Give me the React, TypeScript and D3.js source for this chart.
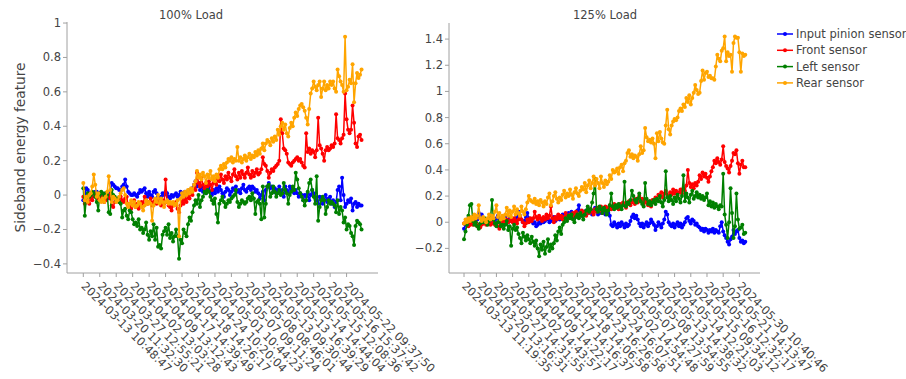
import React from "react";
import * as d3 from "d3";

// ---------- DATA ----------
const seriesNames = ["Input pinion sensor", "Front sensor", "Left sensor", "Rear sensor"];
const seriesColors = ["#0000ff", "#ff0000", "#008000", "#ffa500"];

const leftTitle = "100% Load";
const rightTitle = "125% Load";
const yAxisTitle = "Sideband energy feature";

const leftYTicks = [-0.4, -0.2, 0, 0.2, 0.4, 0.6, 0.8, 1];
const rightYTicks = [-0.2, 0, 0.2, 0.4, 0.6, 0.8, 1, 1.2, 1.4];
const TICK_STEP = 11;

const leftTickLabels = [
  "2024-03-13 10:48:47", "2024-03-20 11:32:30", "2024-03-27 12:55:21", "2024-04-02 13:03:28",
  "2024-04-09 13:12:43", "2024-04-17 14:39:49", "2024-04-18 14:26:17", "2024-04-24 10:20:04",
  "2024-05-01 10:44:23", "2024-05-07 09:11:24", "2024-05-08 08:46:01", "2024-05-13 09:30:44",
  "2024-05-13 16:39:29", "2024-05-14 14:44:04", "2024-05-15 12:08:36", "2024-05-16 15:37:42",
  "2024-05-22 09:37:50",
];
const rightTickLabels = [
  "2024-03-13 11:19:35", "2024-03-20 13:16:31", "2024-03-27 14:31:55", "2024-04-02 14:43:57",
  "2024-04-09 14:22:17", "2024-04-17 14:16:37", "2024-04-18 14:06:58", "2024-04-23 16:26:58",
  "2024-04-24 16:07:51", "2024-05-02 14:54:48", "2024-05-07 14:27:59", "2024-05-08 13:54:55",
  "2024-05-13 14:38:32", "2024-05-14 12:21:03", "2024-05-15 09:34:12", "2024-05-16 12:32:17",
  "2024-05-21 14:13:47", "2024-05-30 10:40:46",
];

// 100% load
const leftInput = [
  -0.03, 0.0, 0.04, 0.03, 0.01, 0.0, -0.01, 0.01, 0.02, 0.02,
  0.01, 0.01, 0.01, 0.0, -0.01, 0.01, -0.02, 0.0, 0.02, 0.07,
  0.06, 0.05, 0.04, 0.04, 0.03, 0.03, 0.05, 0.06, 0.09, 0.05,
  0.02, 0.01, 0.0, 0.0, 0.01, 0.0, -0.01, 0.01, 0.03, 0.02,
  0.03, 0.04, 0.01, -0.01, 0.02, 0.0, -0.01, 0.02, 0.03, 0.01,
  -0.01, -0.03, -0.01, 0.01, 0.0, 0.02, 0.01, -0.01, -0.02, 0.0,
  -0.01, 0.0,
  0.01, -0.01, 0.0, 0.02, 0.01, -0.01, 0.02, 0.0,
  0.01, 0.03, 0.02, 0.04, 0.06, 0.08, 0.05, 0.07, 0.03, 0.05,
  0.02, 0.04, 0.01, 0.03, 0.05, 0.02, 0.0, 0.03, 0.01, 0.04,
  0.02, 0.05, 0.03, 0.01, -0.01, 0.02, 0.04, 0.03, 0.0, 0.02,
  0.04, 0.03, 0.05, 0.02, 0.03, 0.01, 0.04, 0.06, 0.03, 0.02,
  0.04, 0.05, 0.03, 0.05, 0.04, 0.02, 0.03, 0.01, -0.02, 0.0, 0.02,
  -0.03, 0.03, 0.05, 0.07, 0.04, 0.05, 0.02, 0.04, 0.01, 0.03,
  0.05, 0.02, 0.03, -0.01, 0.05, 0.03, 0.01, 0.05, 0.03, 0.04,
  0.01, 0.03, 0.01, -0.01, 0.01, 0.0, -0.03, 0.0, -0.01, 0.01,
  -0.03, 0.0, 0.03, 0.01, -0.01, -0.03, -0.05, -0.01, -0.02, -0.05,
  -0.03, 0.0, -0.04, -0.02, -0.01, -0.05, -0.03, -0.07, -0.04, 0.03,
  0.05, -0.03, 0.1, 0.0, -0.07, -0.05, -0.03, -0.04, -0.02, -0.09,
  -0.05, -0.04, -0.07, -0.05, -0.06, -0.06,
];
const leftFront = [
  -0.01, -0.05, -0.04, -0.02, -0.05, -0.01, -0.03, 0.01, -0.01, 0.0,
  -0.02, -0.01, -0.03, -0.01, -0.04, -0.03, -0.01, 0.0, -0.02, -0.06,
  -0.07, -0.04, -0.03, -0.02, -0.04, -0.01, -0.03, -0.04, -0.02, -0.01,
  -0.06, -0.05, -0.08, -0.06, -0.03, -0.07, -0.05, -0.08, -0.06, -0.04,
  -0.05, -0.01, -0.03, -0.05, -0.04, -0.02, -0.06, -0.04, -0.03, -0.05,
  -0.02, -0.04, -0.06, -0.03, -0.05, 0.09, -0.04, -0.06, -0.07, -0.09,
  -0.06, -0.05,
  -0.04, -0.08, -0.1, -0.06, -0.03, -0.05, -0.02, -0.04,
  0.0, -0.02, 0.02, 0.0, 0.04, 0.03, 0.13, 0.07, 0.05, 0.1,
  0.06, 0.04, 0.07, 0.05, 0.08, 0.06, 0.03, 0.07, 0.09, 0.06,
  0.1, 0.08, 0.12, 0.09, 0.07, 0.11, 0.09, 0.13, 0.1, 0.08,
  0.12, 0.15, 0.11, 0.09, 0.13, 0.1, 0.14, 0.12, 0.1, 0.13,
  0.16, 0.12, 0.1, 0.14, 0.11, 0.13, 0.15, 0.12, 0.13, 0.15, 0.22,
  0.18, 0.17, 0.14, 0.1, 0.13, 0.15, 0.14, 0.16, 0.17, 0.18,
  0.2, 0.44, 0.36, 0.27, 0.26, 0.24, 0.19, 0.18, 0.17, 0.19,
  0.2, 0.21, 0.22, 0.2, 0.21, 0.19, 0.17, 0.16, 0.36, 0.25,
  0.27, 0.24, 0.26, 0.25, 0.22, 0.26, 0.45, 0.29, 0.27, 0.24,
  0.2, 0.26, 0.28, 0.26, 0.27, 0.29, 0.28, 0.3, 0.47, 0.33,
  0.32, 0.3, 0.33, 0.35, 0.59, 0.44, 0.38, 0.36, 0.38, 0.52,
  0.42, 0.3, 0.28, 0.34, 0.35, 0.32,
];
const leftLeft = [
  0.04, -0.12, -0.02, 0.01, -0.01, 0.0, 0.02, 0.01, -0.01, -0.04,
  -0.09, 0.0, 0.02, 0.01, -0.01, 0.01, 0.0, -0.1, -0.11, 0.03,
  0.0, -0.01, -0.03, -0.02, -0.04, -0.05, -0.13, -0.09, -0.08, -0.12,
  -0.14, -0.09, -0.1, -0.14, -0.17, -0.16, -0.18, -0.14, -0.2, -0.19,
  -0.22, -0.2, -0.16, -0.23, -0.26, -0.21, -0.24, -0.17, -0.26, -0.19,
  -0.3, -0.29, -0.31, -0.23, -0.21, -0.19, -0.23, -0.17, -0.25, -0.22,
  -0.27, -0.24,
  -0.2, -0.24, -0.37, -0.26, -0.28, -0.2, -0.22, -0.24,
  -0.17, -0.13, -0.15, -0.1, -0.06, -0.03, -0.05, 0.0, -0.07, -0.03,
  -0.01, 0.02, 0.01, 0.03, 0.02, -0.01, -0.03, -0.05, -0.02, -0.11,
  -0.16, -0.05, -0.03, -0.01, -0.04, -0.07, -0.05, -0.03, -0.04, -0.02,
  -0.01, 0.0, 0.03, -0.04, -0.07, -0.05, -0.03, -0.04, -0.05, -0.04,
  -0.02, -0.01, -0.03, 0.01, -0.02, -0.11, -0.04, -0.03, -0.05, -0.14, 0.05,
  -0.13, -0.05, 0.05, 0.06, -0.01, 0.01, 0.05, 0.02, -0.01, 0.01,
  0.03, 0.0, 0.01, 0.07, 0.03, 0.01, -0.05, 0.0, 0.02, 0.05,
  0.03, 0.13, 0.09, 0.04, 0.01, -0.01, -0.03, -0.06, -0.03, 0.02,
  0.07, 0.09, 0.03, -0.01, -0.05, 0.11, -0.15, -0.07, -0.03, -0.01,
  -0.03, -0.11, -0.07, -0.03, -0.05, -0.04, -0.05, -0.06, -0.1, -0.03,
  -0.11, -0.07, -0.09, -0.16, -0.13, -0.2, -0.17, -0.18, -0.22, -0.24,
  -0.29, -0.18, -0.15, -0.16, -0.17, -0.2,
];
const leftRear = [
  0.07, -0.03, -0.01, -0.04, 0.0, 0.01, 0.05, 0.12, 0.06, -0.01,
  0.01, -0.03, -0.04, -0.02, -0.04, -0.01, 0.02, 0.11, 0.03, -0.04,
  -0.01, -0.02, -0.04, -0.03, -0.01, 0.01, 0.03, 0.04, 0.0, -0.05,
  -0.07, -0.05, -0.03, -0.06, -0.04, -0.07, -0.06, -0.04, -0.05, -0.07,
  -0.09, -0.06, -0.03, -0.05, -0.04, -0.05, -0.15, -0.06, -0.02, -0.04,
  0.0, -0.05, -0.02, -0.04, -0.07, -0.04, -0.03, -0.05, -0.04, -0.05,
  -0.04, -0.06,
  -0.05, -0.03, -0.24, -0.02, 0.01, -0.01, 0.02, 0.0,
  0.03, 0.01, 0.04, 0.02, 0.06, 0.08, 0.14, 0.1, 0.12, 0.09,
  0.13, 0.11, 0.07, 0.12, 0.1, 0.14, 0.09, 0.11, 0.08, 0.12,
  0.1, 0.15, 0.17, 0.15, 0.18, 0.16, 0.19, 0.21, 0.2, 0.22,
  0.19, 0.21, 0.2, 0.28, 0.2, 0.22, 0.19, 0.21, 0.23, 0.2,
  0.22, 0.24, 0.21, 0.23, 0.22, 0.25, 0.23, 0.26, 0.24, 0.27, 0.3,
  0.26, 0.3, 0.32, 0.31, 0.29, 0.33, 0.31, 0.34, 0.32, 0.38,
  0.35, 0.4, 0.42, 0.38, 0.41, 0.36, 0.34, 0.39, 0.42, 0.4,
  0.45, 0.48, 0.46, 0.5, 0.52, 0.53, 0.51, 0.49, 0.45, 0.41,
  0.5, 0.59, 0.62, 0.66, 0.63, 0.61, 0.64, 0.66, 0.57, 0.62,
  0.66, 0.61, 0.64, 0.62, 0.66, 0.64, 0.66, 0.62, 0.6, 0.73,
  0.69, 0.66, 0.64, 0.6, 0.92, 0.61, 0.63, 0.67, 0.65, 0.76,
  0.54, 0.65, 0.71, 0.68, 0.7, 0.73,
];

// 125% load
const rightInput = [
  -0.05, -0.02, 0.0, 0.03, 0.01, 0.02, 0.0, 0.01, 0.03, 0.02,
  0.07, 0.04, 0.06, 0.03, 0.01, 0.0, 0.02, -0.01, 0.01, 0.0,
  0.02, 0.01, 0.03, 0.05, 0.03, 0.0, 0.01, 0.02, 0.04, 0.01,
  0.0, 0.03, 0.01, 0.02, 0.0, 0.03, 0.04, 0.08, 0.05, 0.02,
  0.0, 0.01, 0.04, 0.07, 0.03, 0.01, 0.02, -0.01, 0.0, -0.03,
  -0.02, 0.0, -0.01, 0.02, 0.0, 0.01, 0.03, 0.02, 0.0, 0.01,
  0.02, 0.04, 0.01, 0.03, 0.05, 0.02, 0.04, 0.06, 0.03, 0.05,
  0.04, 0.07, 0.05, 0.08, 0.06, 0.04, 0.07, 0.09, 0.13, 0.07,
  0.05, 0.08, 0.06, 0.09, 0.07, 0.1, 0.08, 0.06, 0.09, 0.11,
  0.08, 0.06, 0.09, 0.07, 0.1, 0.08, 0.06, 0.09, 0.07, 0.05,
  -0.02, -0.03, 0.0, -0.02, -0.04, -0.01, -0.03, 0.0, -0.02, -0.04,
  -0.01, -0.03, -0.02, 0.01, 0.04, 0.06, 0.03, 0.05, 0.02, -0.01,
  -0.03, -0.01, -0.04, -0.02, 0.0, -0.03, -0.01, 0.02, 0.0, -0.02,
  -0.06, -0.03, 0.0, -0.02, -0.04, -0.01, 0.02, 0.08, 0.06, 0.0,
  -0.02, -0.03, -0.01, -0.04, -0.02, 0.0, -0.03, -0.01, -0.04, -0.02,
  0.0, 0.03, 0.04, 0.01, -0.01, 0.02, 0.01, -0.02, -0.01, -0.03,
  -0.04, -0.06, -0.05, -0.07, -0.05, -0.06, -0.08, -0.06, -0.07, -0.05,
  -0.08, -0.06, -0.07, -0.08, -0.03, 0.0, -0.07, -0.1, -0.12, -0.15,
  -0.17, -0.13, -0.11, -0.06, -0.09, -0.07, -0.06, -0.12, -0.15, -0.14, -0.16, -0.15,
];
const rightFront = [
  -0.01, 0.0, -0.01, -0.03, -0.02, 0.0, -0.02, -0.01, 0.0, -0.03,
  -0.02, -0.04, -0.02, -0.01, 0.0, -0.02, 0.01, 0.0, -0.02, -0.01,
  0.0, -0.02, -0.01, -0.03, -0.05, -0.02, 0.0, 0.01, -0.01, 0.02,
  0.0, 0.01, 0.02, 0.0, 0.03, 0.01, -0.01, 0.02, 0.04, 0.02,
  0.0, -0.03, -0.01, 0.02, 0.0, 0.03, 0.01, 0.03, 0.08, 0.04,
  0.02, 0.05, 0.03, 0.01, 0.04, 0.02, 0.06, 0.03, 0.05, 0.12,
  0.03, 0.0, 0.04, 0.02, 0.06, 0.03, 0.05, 0.02, 0.04, 0.07,
  0.05, 0.03, 0.06, 0.04, 0.07, 0.05, 0.08, 0.06, 0.04, 0.07,
  0.09, 0.06, 0.08, 0.05, 0.09, 0.07, 0.1, 0.08, 0.06, 0.1,
  0.08, 0.11, 0.09, 0.12, 0.07, 0.1, 0.12, 0.09, 0.11, 0.13,
  0.1, 0.12, 0.14, 0.11, 0.13, 0.1, 0.14, 0.12, 0.15, 0.13,
  0.11, 0.14, 0.16, 0.13, 0.15, 0.17, 0.14, 0.18, 0.15, 0.2,
  0.16, 0.18, 0.14, 0.17, 0.15, 0.13, 0.16, 0.12, 0.17, 0.15,
  0.19, 0.17, 0.21, 0.2, 0.23, 0.19, 0.22, 0.24, 0.21, 0.2,
  0.23, 0.21, 0.25, 0.22, 0.24, 0.2, 0.23, 0.25, 0.22, 0.26,
  0.24, 0.28, 0.4, 0.3, 0.27, 0.29, 0.26, 0.3, 0.28, 0.31,
  0.36, 0.33, 0.38, 0.35, 0.37, 0.34, 0.31, 0.35, 0.39, 0.42,
  0.47, 0.45, 0.49, 0.46, 0.44, 0.48, 0.58, 0.46, 0.43, 0.41,
  0.38, 0.43, 0.47, 0.53, 0.52, 0.55, 0.45, 0.37, 0.44, 0.47, 0.42, 0.42,
];
const rightLeft = [
  -0.13, -0.07, -0.02, 0.05, 0.13, 0.14, 0.01, -0.02, 0.0, -0.03,
  -0.05, -0.01, 0.02, 0.0, 0.03, 0.0, -0.02, 0.01, 0.03, 0.17,
  0.02, -0.01, -0.03, 0.0, 0.01, -0.03, -0.02, -0.05, -0.02, 0.01,
  -0.06, -0.03, -0.18, -0.05, -0.02, -0.06, -0.04, -0.09, -0.12, -0.16,
  -0.08, -0.11, -0.14, -0.1, -0.13, -0.16, -0.11, -0.15, -0.18, -0.14,
  -0.2, -0.26, -0.17, -0.21, -0.15, -0.24, -0.19, -0.13, -0.22, -0.17,
  -0.2, -0.16, -0.1, -0.14, -0.07, -0.04, -0.09, -0.02, 0.0, 0.03,
  0.01, 0.05, 0.03, 0.06, 0.02, 0.0, 0.04, 0.06, 0.03, 0.07,
  0.05, 0.02, 0.06, 0.09, 0.12, 0.08, 0.1, 0.15, 0.22, 0.33,
  0.1, 0.08, 0.12, 0.1, 0.07, 0.11, 0.09, 0.06, 0.09, 0.13,
  0.22, 0.12, 0.1, 0.13, 0.11, 0.14, 0.12, 0.1, 0.13, 0.31,
  0.12, 0.15, 0.14, 0.17, 0.24, 0.2, 0.17, 0.15, 0.18, 0.22,
  0.16, 0.14, 0.12, 0.3, 0.18, 0.14, 0.16, 0.13, 0.15, 0.17,
  0.14, 0.18, 0.16, 0.2, 0.15, 0.12, 0.17, 0.39, 0.19, 0.16,
  0.2, 0.17, 0.14, 0.19, 0.16, 0.21, 0.18, 0.15, 0.2, 0.36,
  0.16, 0.22, 0.19, 0.15, 0.21, 0.24, 0.18, 0.2, 0.23, 0.19,
  0.21, 0.18, 0.2, 0.17, 0.19, 0.22, 0.13, 0.16, 0.12, 0.15,
  0.11, 0.14, 0.12, 0.1, 0.13, 0.12, 0.37, 0.06, -0.02, -0.12,
  0.0, 0.26, 0.07, -0.12, -0.03, 0.22, 0.02, -0.05, -0.04, -0.02, -0.09, -0.08,
];
const rightRear = [
  -0.01, 0.02, 0.0, 0.03, 0.01, 0.04, 0.02, 0.06, 0.03, 0.05,
  0.13, 0.03, 0.01, 0.04, 0.02, 0.0, 0.03, 0.06, 0.02, 0.05,
  0.03, 0.08, 0.13, 0.04, 0.07, 0.02, 0.05, 0.03, 0.06, 0.11,
  0.05, 0.09, 0.04, 0.08, 0.12, 0.06, 0.1, 0.07, 0.05, 0.12,
  0.08, 0.06, 0.1, 0.15, 0.2, 0.17, 0.16, 0.15, 0.18, 0.14,
  0.16, 0.13, 0.17, 0.15, 0.12, 0.16, 0.14, 0.19, 0.22, 0.13,
  0.16, 0.2, 0.23, 0.18, 0.15, 0.19, 0.17, 0.21, 0.24, 0.19,
  0.22, 0.2, 0.25, 0.21, 0.18, 0.23, 0.26, 0.22, 0.2, 0.24,
  0.27, 0.25, 0.3, 0.23, 0.28, 0.32, 0.26, 0.3, 0.35, 0.28,
  0.33, 0.3, 0.26, 0.35, 0.3, 0.27, 0.32, 0.29, 0.31, 0.36,
  0.33, 0.4, 0.38, 0.39, 0.41, 0.37, 0.42, 0.44, 0.39, 0.45,
  0.47, 0.53, 0.55, 0.5, 0.52, 0.49, 0.51, 0.5, 0.47, 0.52,
  0.58, 0.53, 0.55, 0.72, 0.65, 0.62, 0.63, 0.61, 0.64, 0.6,
  0.49, 0.68, 0.62, 0.69, 0.64, 0.61, 0.6, 0.74, 0.86, 0.71,
  0.67, 0.74, 0.77, 0.79, 0.78, 0.8, 0.85, 0.87, 0.85, 0.9,
  0.88, 0.95, 0.92, 0.97, 0.9, 0.95, 0.99, 1.05, 1.01, 0.98,
  0.99, 1.08, 1.16, 1.09, 1.14, 1.15, 1.11, 1.12, 1.1, 1.1,
  1.09, 1.19, 1.28, 1.25, 1.23, 1.31, 1.33, 1.42, 1.23, 1.3,
  1.27, 1.28, 1.15, 1.37, 1.42, 1.41, 1.41, 1.3, 1.15, 1.29, 1.27, 1.28,
];

const leftSeries = [leftInput, leftFront, leftLeft, leftRear];
const rightSeries = [rightInput, rightFront, rightLeft, rightRear];

// ---------- DRAWING ----------
const FONT = "'DejaVu Sans', Verdana, sans-serif";
const TEXT = "#444";
const AXIS = "#a0a0a0";

const fmt = (v: number) => (v < 0 ? "\u2212" + String(Math.abs(v)) : String(v));

type PanelProps = {
  title: string;
  titleX: number;
  series: number[][];
  xDomain: [number, number];
  xRange: [number, number];
  yDomain: [number, number];
  yRange: [number, number];
  yTicks: number[];
  tickLabels: string[];
};

function Panel({ title, titleX, series, xDomain, xRange, yDomain, yRange, yTicks, tickLabels }: PanelProps) {
  const x = d3.scaleLinear().domain(xDomain).range(xRange);
  const y = d3.scaleLinear().domain(yDomain).range(yRange);
  const line = d3
    .line<number>()
    .x((_, i) => x(i))
    .y((d) => y(d));
  const [x0, x1] = xRange;
  const [yb, yt] = yRange;
  return (
    <g>
      <text x={titleX} y={19} textAnchor="middle" fontSize={11.5} fill={TEXT} fontFamily={FONT}>
        {title}
      </text>
      {series.map((s, k) => (
        <g key={k}>
          <path d={line(s) || ""} fill="none" stroke={seriesColors[k]} strokeWidth={1.5} strokeLinejoin="round" />
          {s.map((v, i) => (
            <circle key={i} cx={x(i)} cy={y(v)} r={2} fill={seriesColors[k]} />
          ))}
        </g>
      ))}
      <line x1={x0} x2={x0} y1={yt} y2={yb} stroke={AXIS} strokeWidth={1} />
      <line x1={x0} x2={x1} y1={yb} y2={yb} stroke={AXIS} strokeWidth={1} />
      {yTicks.map((t) => (
        <g key={t}>
          <line x1={x0 - 4} x2={x0} y1={y(t)} y2={y(t)} stroke={AXIS} />
          <text x={x0 - 6} y={y(t)} dy="0.35em" textAnchor="end" fontSize={11.5} fill={TEXT} fontFamily={FONT}>
            {fmt(t)}
          </text>
        </g>
      ))}
      {tickLabels.map((lab, j) => {
        const tx = x(j * TICK_STEP);
        return (
          <g key={lab}>
            <line x1={tx} x2={tx} y1={yb} y2={yb + 4} stroke={AXIS} />
            <text
              transform={`translate(${tx},${yb + 11}) rotate(45)`}
              dy="0.35em"
              fontSize={11.5}
              fill={TEXT}
              fontFamily={FONT}
            >
              {lab}
            </text>
          </g>
        );
      })}
    </g>
  );
}

export default function App() {
  return (
    <svg
      width={906}
      height={379}
      style={{ position: "absolute", left: 0, top: 0, background: "#fff" }}
    >
      <rect x={0} y={0} width={906} height={379} fill="#fff" />
      <text
        transform="translate(20,147.5) rotate(-90)"
        textAnchor="middle"
        dy="0.35em"
        fontSize={13.7}
        fill={TEXT}
        fontFamily={FONT}
      >
        {yAxisTitle}
      </text>
      <Panel
        title={leftTitle}
        titleX={191}
        series={leftSeries}
        xDomain={[-10.9, 197]}
        xRange={[67, 378]}
        yDomain={[-0.453, 1.006]}
        yRange={[273, 22]}
        yTicks={leftYTicks}
        tickLabels={leftTickLabels}
      />
      <Panel
        title={rightTitle}
        titleX={605}
        series={rightSeries}
        xDomain={[-10.2, 201]}
        xRange={[449, 760]}
        yDomain={[-0.388, 1.523]}
        yRange={[273, 23]}
        yTicks={rightYTicks}
        tickLabels={rightTickLabels}
      />
      <g>
        {seriesNames.map((n, k) => {
          const ly = 34 + k * 16.3;
          return (
            <g key={n}>
              <line x1={777} x2={793} y1={ly} y2={ly} stroke={seriesColors[k]} strokeWidth={1.5} />
              <circle cx={785} cy={ly} r={2} fill={seriesColors[k]} />
              <text x={796} y={ly} dy="0.35em" fontSize={11.5} fill={TEXT} fontFamily={FONT}>
                {n}
              </text>
            </g>
          );
        })}
      </g>
    </svg>
  );
}
